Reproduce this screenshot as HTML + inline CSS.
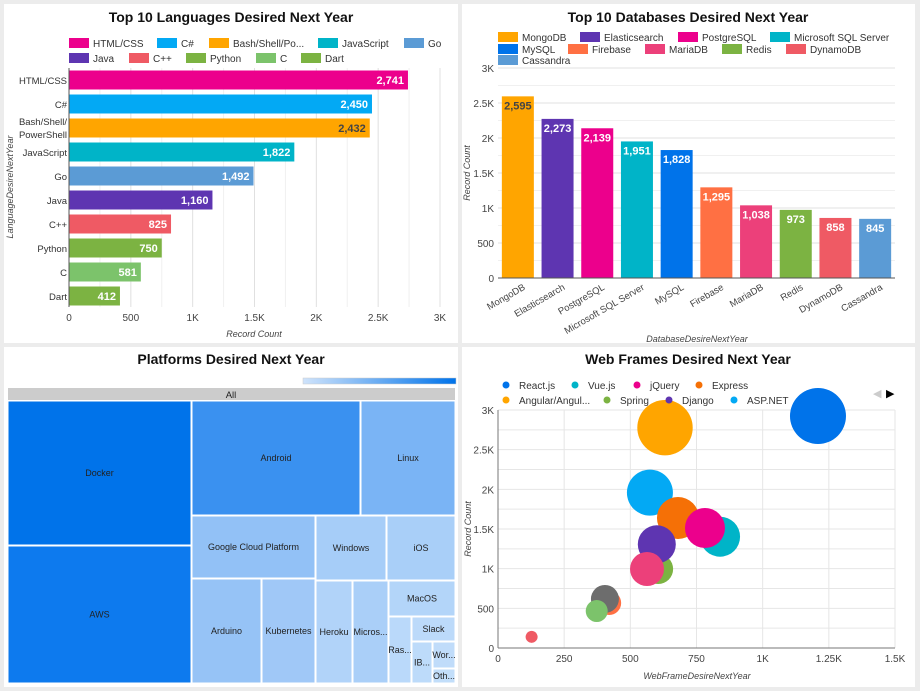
<!DOCTYPE html>
<html><head><meta charset="utf-8"><style>
body{margin:0;background:#ececec;font-family:"Liberation Sans",sans-serif}
svg{display:block}
text{font-family:"Liberation Sans",sans-serif}
</style></head><body>
<svg id="s" width="920" height="691" xmlns="http://www.w3.org/2000/svg">
<rect x="0" y="0" width="920" height="691" fill="#ececec"/>
<rect x="4" y="4" width="454" height="339" fill="#fff"/>
<rect x="462" y="4" width="453" height="339" fill="#fff"/>
<rect x="4" y="347" width="454" height="340" fill="#fff"/>
<rect x="462" y="347" width="453" height="340" fill="#fff"/>
<g id="lang"></g><g id="db"></g><g id="tree"></g><g id="bub"></g>
</svg>
<script>
const NS="http://www.w3.org/2000/svg";
function el(p,t,a,txt){const e=document.createElementNS(NS,t);for(const k in a)e.setAttribute(k,a[k]);if(txt!==undefined)e.textContent=txt;p.appendChild(e);return e;}

/* ---------- Languages ---------- */
const langCats=["HTML/CSS","C#","Bash/Shell/PowerShell","JavaScript","Go","Java","C++","Python","C","Dart"];
const langVals=[2741,2450,2432,1822,1492,1160,825,750,581,412];
const langTicks=[0,500,1000,1500,2000,2500,3000];
const langTickLabels=["0","500","1K","1.5K","2K","2.5K","3K"];
const langColors=["#ec008c","#03a9f4","#ffa500","#00b4c8","#5b9bd5","#5e35b1","#ef5a64","#7cb342","#7cc36b","#7cb342"];
const langLegendNames=["HTML/CSS","C#","Bash/Shell/Po...","JavaScript","Go","Java","C++","Python","C","Dart"];
(function(){
const g=document.getElementById('lang');
const x=v=>69+v*(371/3000), y=i=>80+i*24;
el(g,'text',{x:231,y:22,'text-anchor':'middle','font-size':14,'font-weight':'bold',fill:'#111',},'Top 10 Languages Desired Next Year');
for(let v=0;v<=3000;v+=250){const l=el(g,'line',{x1:x(v),x2:x(v),y1:68,y2:307,stroke:v%500?'#f0f0f0':'#e0e0e0'});}
langTicks.forEach((t,i)=>{const e=el(g,'text',{x:x(t),y:321,'text-anchor':'middle','font-size':10,fill:'#444'},langTickLabels[i]);});
langCats.forEach((c,i)=>{
 const b=el(g,'rect',{x:x(0),y:y(i)-9.5,width:x(langVals[i])-x(0),height:19,fill:langColors[i]});
 
 const v=el(g,'text',{x:x(langVals[i])-4,y:y(i)+4,'text-anchor':'end','font-size':11,'font-weight':'bold',fill:i==2?'#444':'#fff'},langVals[i].toLocaleString('en-US'));
 
 if(c.indexOf('Bash')==0){
  const t1=el(g,'text',{x:67,y:y(i)-3,'text-anchor':'end','font-size':9.5,fill:'#333'},'Bash/Shell/');
  const t2=el(g,'text',{x:67,y:y(i)+10,'text-anchor':'end','font-size':9.5,fill:'#333'},'PowerShell');
 }else{const t=el(g,'text',{x:67,y:y(i)+4,'text-anchor':'end','font-size':9.5,fill:'#333'},c);}
});
el(g,'line',{x1:69,x2:69,y1:68,y2:307,stroke:'#555'});
el(g,'text',{x:254,y:337,'text-anchor':'middle','font-size':9,'font-style':'italic',fill:'#444',},'Record Count');
el(g,'text',{x:0,y:0,transform:'translate(13,187) rotate(-90)','text-anchor':'middle','font-size':9,'font-style':'italic',fill:'#444',},'LanguageDesireNextYear');
const lx=[69,157,209,318,404,69,129,186,256,301];
langLegendNames.forEach((n,i)=>{const yy=i<5?43:58;
 const s=el(g,'rect',{x:lx[i],y:yy-5,width:20,height:10,fill:langColors[i]});
 const t=el(g,'text',{x:lx[i]+24,y:yy+4,'font-size':10,fill:'#333'},n);});
})();

/* ---------- Databases ---------- */
const dbCats=["MongoDB","Elasticsearch","PostgreSQL","Microsoft SQL Server","MySQL","Firebase","MariaDB","Redis","DynamoDB","Cassandra"];
const dbVals=[2595,2273,2139,1951,1828,1295,1038,973,858,845];
const dbTicks=[0,500,1000,1500,2000,2500,3000];
const dbTickLabels=["0","500","1K","1.5K","2K","2.5K","3K"];
const dbColors=["#ffa500","#5e35b1","#ec008c","#00b4c8","#0073ea","#ff7043","#ec407a","#7cb342","#ef5a64","#5b9bd5"];
(function(){
const g=document.getElementById('db');
const x0=498,bw=39.7,y=v=>278-v*(210/3000);
el(g,'text',{x:688,y:22,'text-anchor':'middle','font-size':14,'font-weight':'bold',fill:'#111',},'Top 10 Databases Desired Next Year');
for(let v=0;v<=3000;v+=250){const l=el(g,'line',{x1:498,x2:895,y1:y(v),y2:y(v),stroke:v%500?'#f0f0f0':'#e0e0e0'});}
dbTicks.forEach((t,i)=>{const e=el(g,'text',{x:494,y:y(t)+4,'text-anchor':'end','font-size':10,fill:'#444'},dbTickLabels[i]);});
dbCats.forEach((c,i)=>{
 const cx=x0+bw*(i+0.5);
 const b=el(g,'rect',{x:cx-16,y:y(dbVals[i]),width:32,height:278-y(dbVals[i]),fill:dbColors[i]});
 
 const v=el(g,'text',{x:cx,y:y(dbVals[i])+13,'text-anchor':'middle','font-size':11,'font-weight':'bold',fill:i==0?'#444':'#fff'},dbVals[i].toLocaleString('en-US'));
 
 const t=el(g,'text',{x:0,y:0,transform:`translate(${cx+8},${289}) rotate(-30)`,'text-anchor':'end','font-size':9.5,fill:'#444'},c);
 
});
el(g,'line',{x1:498,x2:895,y1:278,y2:278,stroke:'#555'});
el(g,'text',{x:697,y:342,'text-anchor':'middle','font-size':9,'font-style':'italic',fill:'#444',},'DatabaseDesireNextYear');
el(g,'text',{x:0,y:0,transform:'translate(470,173) rotate(-90)','text-anchor':'middle','font-size':9,'font-style':'italic',fill:'#444',},'Record Count');
const lx=[498,580,678,770,498,568,645,722,786,498],ly=[37,37,37,37,49,49,49,49,49,60];
dbCats.forEach((n,i)=>{
 const s=el(g,'rect',{x:lx[i],y:ly[i]-5,width:20,height:10,fill:dbColors[i]});
 const t=el(g,'text',{x:lx[i]+24,y:ly[i]+4,'font-size':10,fill:'#333'},n);});
})();

/* ---------- Treemap ---------- */
const treeNames=["Docker","AWS","Android","Linux","Google Cloud Platform","Windows","iOS","Arduino","Kubernetes","Heroku","Micros...","MacOS","Ras...","Slack","IB...","Wor...","Oth..."];
const treeColors=["#0073ea","#0d7aee","#3a91f0","#7ab4f5","#92c1f6","#a6cdf8","#a9cff8","#96c3f6","#a0c8f7","#b1d3f9","#aacff8","#b3d5f9","#bad9fa","#bcdafa","#bddbfa","#c0dcfa","#c2defa"];
(function(){
const g=document.getElementById('tree');
const R=[[8,401,183,144],[8,546,183,137],[192,401,168,114],[361,401,94,114],[192,516,123,62],[316,516,70,64],[387,516,68,64],[192,579,69,104],[262,579,53,104],[316,581,36,102],[353,581,35,102],[389,581,66,35],[389,617,22,66],[412,617,43,24],[412,642,20,41],[433,642,22,26],[433,669,22,14]];
el(g,'text',{x:231,y:364,'text-anchor':'middle','font-size':14,'font-weight':'bold',fill:'#111',},'Platforms Desired Next Year');
const defs=el(g,'defs',{});const lg=el(defs,'linearGradient',{id:'gr'});
el(lg,'stop',{offset:'0','stop-color':'#cfe3fb'});el(lg,'stop',{offset:'1','stop-color':'#0073ea'});
el(g,'rect',{x:303,y:378,width:153,height:6,fill:'url(#gr)',stroke:'#ccc','stroke-width':0.5,});
el(g,'rect',{x:8,y:388,width:447,height:12,fill:'#ccc',});
el(g,'text',{x:231,y:398,'text-anchor':'middle','font-size':9.5,fill:'#222'},'All');
R.forEach((r,i)=>{
 const c=el(g,'rect',{x:r[0],y:r[1],width:r[2],height:r[3],fill:treeColors[i],stroke:'#fff','stroke-width':1});
 
 const t=el(g,'text',{x:r[0]+r[2]/2,y:r[1]+r[3]/2+3,'text-anchor':'middle','font-size':9,fill:'#222'},treeNames[i]);
 
});
})();

/* ---------- Bubbles ---------- */
const bubNames=["React.js","Angular/Angular.js","ASP.NET","Vue.js","Express","jQuery","Spring","Django","Laravel","Flask","Ruby on Rails","Drupal","Other"];
const bubX=[1209,631,574,839,680,782,605,600,563,420,404,373,127];
const bubY=[2924,2777,1958,1403,1639,1513,996,1307,996,567,618,466,141];
const bubSize=[28,27.7,23,20,21,20,15,19,17,12,14,11,6];
const bubColors=["#0073ea","#ffa500","#03a9f4","#00b4c8","#f57006","#ec008c","#7cb342","#5e35b1","#ec407a","#ff7043","#6d6d6d","#7cc36b","#ef5a64"];
const bubXTicks=[0,250,500,750,1000,1250,1500];
const bubXLabels=["0","250","500","750","1K","1.25K","1.5K"];
const bubYTicks=[0,500,1000,1500,2000,2500,3000];
const bubYLabels=["0","500","1K","1.5K","2K","2.5K","3K"];
(function(){
const g=document.getElementById('bub');
const x=v=>498+v*(397/1500), y=v=>648-v*(238/3000);
el(g,'text',{x:688,y:364,'text-anchor':'middle','font-size':14,'font-weight':'bold',fill:'#111',},'Web Frames Desired Next Year');
for(let v=0;v<=3000;v+=250){const l=el(g,'line',{x1:498,x2:895,y1:y(v),y2:y(v),stroke:'#e6e6e6'});}
for(let v=250;v<=1500;v+=250){const l=el(g,'line',{x1:x(v),x2:x(v),y1:410,y2:648,stroke:'#e6e6e6'});}
el(g,'line',{x1:498,x2:895,y1:648,y2:648,stroke:'#777'});el(g,'line',{x1:498,x2:498,y1:410,y2:648,stroke:'#777'});
bubXTicks.forEach((t,i)=>{const e=el(g,'text',{x:x(t),y:662,'text-anchor':'middle','font-size':10,fill:'#444'},bubXLabels[i]);});
bubYTicks.forEach((t,i)=>{const e=el(g,'text',{x:494,y:y(t)+4,'text-anchor':'end','font-size':10,fill:'#444'},bubYLabels[i]);});
bubNames.forEach((n,i)=>{
 const c=el(g,'circle',{cx:x(bubX[i]),cy:y(bubY[i]),r:bubSize[i],fill:bubColors[i]});
 
});
el(g,'text',{x:697,y:679,'text-anchor':'middle','font-size':9,'font-style':'italic',fill:'#444',},'WebFrameDesireNextYear');
el(g,'text',{x:0,y:0,transform:'translate(471,529) rotate(-90)','text-anchor':'middle','font-size':9,'font-style':'italic',fill:'#444',},'Record Count');
const L=[["React.js","#0073ea",506,385],["Vue.js","#00b4c8",575,385],["jQuery","#ec008c",637,385],["Express","#f57006",699,385],["Angular/Angul...","#ffa500",506,400],["Spring","#7cb342",607,400],["Django","#5e35b1",669,400],["ASP.NET","#03a9f4",734,400]];
L.forEach(l=>{const d=el(g,'circle',{cx:l[2],cy:l[3],r:3.5,fill:l[1]});
 const t=el(g,'text',{x:l[2]+13,y:l[3]+4,'font-size':10,fill:'#333'},l[0]);});
el(g,'text',{x:873,y:397,'font-size':11,fill:'#ccc',},'◀');
el(g,'text',{x:886,y:397,'font-size':11,fill:'#000',},'▶');
})();
</script>
</body></html>
